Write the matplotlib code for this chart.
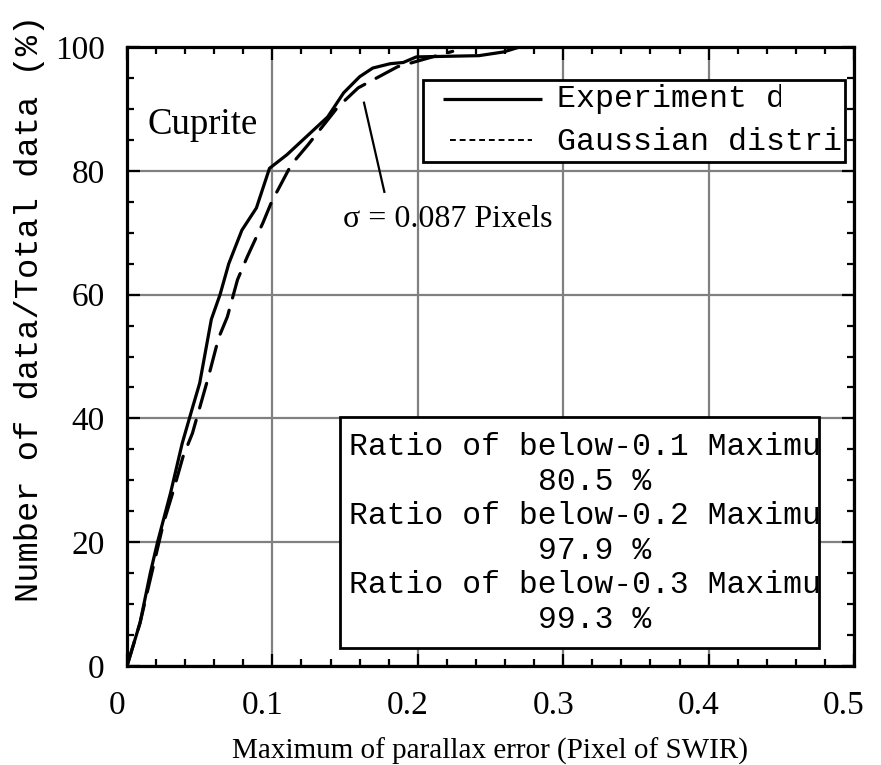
"""Cumulative parallax-error curve for Cuprite (experiment vs Gaussian)."""

import matplotlib
matplotlib.use("Agg")
import matplotlib.pyplot as plt
from matplotlib.patches import Rectangle
from matplotlib.transforms import Bbox, ScaledTranslation, TransformedBbox

# experiment data (solid)
exp_x = [0, 0.009, 0.016, 0.021, 0.030, 0.038, 0.045, 0.050, 0.058, 0.064,
         0.070, 0.079, 0.089, 0.098, 0.110, 0.121, 0.138, 0.149, 0.160,
         0.169, 0.181, 0.190, 0.199, 0.242, 0.259, 0.270, 0.390]
exp_y = [0, 7, 15, 20, 28, 36, 41.7, 45.7, 56, 60,
         65, 70.4, 74, 80.4, 82.6, 85, 88.7, 92.6, 95.2,
         96.6, 97.3, 97.5, 98.4, 98.6, 99.2, 100, 100]

# gaussian distribution (dashed)
gau_x = [0, 0.009, 0.016, 0.025, 0.032, 0.0385, 0.045, 0.056, 0.063, 0.069,
         0.076, 0.0825, 0.0935, 0.100, 0.104, 0.113, 0.1245, 0.145, 0.159,
         0.186, 0.210, 0.224]
gau_y = [0, 7, 14, 23, 28.4, 33.8, 37.6, 46.7, 53, 56.4,
         62.4, 66, 71.6, 75.3, 77, 81, 84.2, 90.3, 93.4,
         96.8, 98.4, 99.3]

x_ticks = [0, 0.1, 0.2, 0.3, 0.4, 0.5]
x_tick_labels = ["0", "0.1", "0.2", "0.3", "0.4", "0.5"]
y_ticks = [0, 20, 40, 60, 80, 100]

legend_labels = ["Experiment data", "Gaussian distribution"]
ratio_lines = ["Ratio of below-0.1 Maximum", "80.5 %",
               "Ratio of below-0.2 Maximum", "97.9 %",
               "Ratio of below-0.3 Maximum", "99.3 %"]

SERIF = "Liberation Serif"
MONO = "Liberation Mono"

fig = plt.figure(figsize=(8.81, 7.65), dpi=100)
ax = fig.add_axes([127 / 881, 99 / 765, 727 / 881, 619 / 765])

ax.plot(exp_x, exp_y, color="black", lw=2.3, solid_joinstyle="round", zorder=3)
ax.plot(gau_x, gau_y, color="black", lw=2.3, dashes=(8, 4),
        dash_capstyle="round", zorder=3)

ax.set_xlim(0, 0.5)
ax.set_ylim(0, 100)
ax.set_xticks(x_ticks)
ax.set_xticklabels(x_tick_labels)
ax.set_yticks(y_ticks)
ax.set_xticks([i * 0.02 for i in range(26)], minor=True)
ax.set_yticks(range(0, 101, 5), minor=True)
ax.grid(True, which="major", color="#808080", lw=1.6, zorder=1)
for s in ax.spines.values():
    s.set_linewidth(2.3)
ax.tick_params(which="both", direction="in", top=True, right=True,
               width=1.6, color="black")
ax.tick_params(which="major", length=9)
ax.tick_params(which="minor", length=5)
ax.tick_params(axis="x", which="major", pad=18)
ax.tick_params(axis="y", which="major", pad=16)
for lab in ax.get_xticklabels() + ax.get_yticklabels():
    lab.set_fontfamily(SERIF)
    lab.set_fontsize(24)
shift = ScaledTranslation(-10 / 100, 0, fig.dpi_scale_trans)
for lab in ax.get_xticklabels():
    lab.set_transform(lab.get_transform() + shift)

ax.set_xlabel("Maximum of parallax error (Pixel of SWIR)", family=SERIF,
              fontsize=21, labelpad=12)
fig.text(30 / 881, 1 - 308 / 765, "Number of data/Total data (%)",
         family=MONO, fontsize=24.3, rotation=90, ha="center", va="center")

ax.text(0.028, 0.875, "Cuprite", transform=ax.transAxes, family=SERIF,
        fontsize=26.5, ha="left", va="center")

# sigma annotation
ax.plot([0.163, 0.177], [91.0, 76.6], color="black", lw=1.6, zorder=3)
ax.text(0.1485, 72.2, "\u03c3 = 0.087 Pixels", family=SERIF, fontsize=23,
        ha="left", va="center", zorder=4)


def px2ax(px, py):
    return (px - 127) / 727, (666 - py) / 619


def clip_box(x0, y0, x1, y1):
    return TransformedBbox(Bbox([[x0, y0], [x1, y1]]), ax.transAxes)


# legend box (text clipped at the right like the original)
lx0, ly0 = px2ax(423, 162)
lx1, ly1 = px2ax(845, 80)
leg = Rectangle((lx0, ly0), lx1 - lx0, ly1 - ly0, transform=ax.transAxes,
                facecolor="white", edgecolor="black", lw=2.0, zorder=5)
ax.add_patch(leg)
a, b = px2ax(443, 99)
c, _ = px2ax(542, 99)
ax.plot([a, c], [b, b], transform=ax.transAxes, color="black", lw=2.3,
        zorder=6, solid_capstyle="butt")
a, b = px2ax(450, 140)
c, _ = px2ax(532, 140)
ax.plot([a, c], [b, b], transform=ax.transAxes, color="black", lw=1.4,
        dashes=(3, 2), zorder=6)
clip_x = [781, 843]
for i, (lab, ypx) in enumerate(zip(legend_labels, [99, 142])):
    tx, ty = px2ax(557, ypx)
    t = ax.text(tx, ty, lab, transform=ax.transAxes, family=MONO,
                fontsize=22.8, ha="left", va="center", zorder=7)
    cx, _ = px2ax(clip_x[i], 0)
    t.set_clip_box(clip_box(lx0, ly0, cx, ly1))
    t.set_clip_on(True)

# ratio box
bx0, by0 = px2ax(340, 648)
bx1, by1 = px2ax(819, 417)
box = Rectangle((bx0, by0), bx1 - bx0, by1 - by0, transform=ax.transAxes,
                facecolor="white", edgecolor="black", lw=2.0, zorder=5)
ax.add_patch(box)
for i, lab in enumerate(ratio_lines):
    ypx = 447 + i * 34.6
    if i % 2 == 0:
        tx, ty = px2ax(349, ypx)
        ha = "left"
    else:
        tx, ty = px2ax(595, ypx)
        ha = "center"
    t = ax.text(tx, ty, lab, transform=ax.transAxes, family=MONO,
                fontsize=22.6, ha=ha, va="center", zorder=7)
    t.set_clip_box(clip_box(bx0, by0, bx1 - 0.002, by1))
    t.set_clip_on(True)

fig.savefig("out.png", dpi=100)
plt.close(fig)
